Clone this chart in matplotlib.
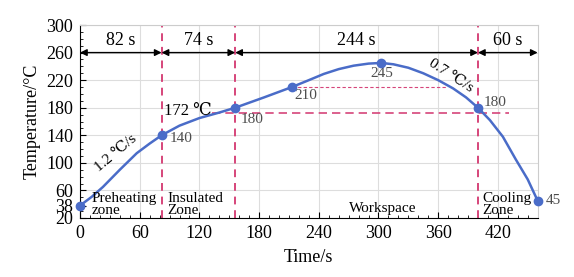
import matplotlib
matplotlib.use("Agg")
import matplotlib.pyplot as plt
from matplotlib.ticker import MultipleLocator

plt.rcParams["font.family"] = ["Liberation Serif", "DejaVu Serif"]

# smooth profile
curve_x = [0, 12, 23, 40, 57, 70, 82, 100, 120, 140, 156, 185, 213, 230, 245,
           260, 275, 290, 303, 315, 330, 345, 360, 375, 388, 400, 412, 425,
           438, 450, 460]
curve_y = [38, 51, 65, 90, 114, 128, 140, 154, 165, 173, 180, 195, 210, 220, 229,
           236, 241, 244, 245, 243, 238, 230, 220, 208, 195, 180, 162, 138,
           105, 76, 45]

# marked points
point_x = [0, 82, 156, 213, 303, 400, 460]
point_y = [38, 140, 180, 210, 245, 180, 45]

zone_edges = [0, 82, 156, 400, 460]
zone_times = ["82 s", "74 s", "244 s", "60 s"]

yticks = [20, 38, 60, 100, 140, 180, 220, 260, 300]
xticks = [0, 60, 120, 180, 240, 300, 360, 420]

blue = "#4a6cc8"
red = "#d6457a"
gray_text = "#4d4d4d"

fig = plt.figure(figsize=(5.74, 2.77), dpi=100)
ax = fig.add_axes([0.1394, 0.213, 0.7973, 0.6967])

ax.set_xlim(0, 460)
ax.set_ylim(20, 300)
ax.set_xticks(xticks)
ax.set_yticks(yticks)
ax.xaxis.set_minor_locator(MultipleLocator(10))
ax.yaxis.set_minor_locator(MultipleLocator(10))
ax.tick_params(which="both", direction="in", labelsize=13, top=False, right=False)
ax.tick_params(which="major", length=4, pad=5)
ax.tick_params(which="minor", length=2)
for s in ["top", "right"]:
    ax.spines[s].set_color("#cccccc")
ax.grid(True, color="#dddddd", linewidth=0.8)
for gl, v in zip(ax.get_ygridlines(), yticks):
    if v in (20, 38):
        gl.set_visible(False)
ax.set_axisbelow(True)

ax.set_xlabel("Time/s", fontsize=13, labelpad=5)
ax.set_ylabel("Temperature/°C", fontsize=13, labelpad=4)

# zone boundaries
for xe in zone_edges[1:-1]:
    ax.axvline(xe, color=red, linestyle=(0, (4, 3)), linewidth=1.4, zorder=2)

ax.plot([133, 431], [172, 172], color=red, linestyle=(0, (5, 3)), linewidth=1.2, zorder=2)
ax.plot([213, 369], [210, 210], color=red, linestyle=(0, (3, 2)), linewidth=0.8, zorder=2)

# duration arrows
for a, b, lab in zip(zone_edges[:-1], zone_edges[1:], zone_times):
    ax.annotate("", xy=(b, 260), xytext=(a, 260),
                arrowprops=dict(arrowstyle="<|-|>", color="black", lw=1.0,
                                mutation_scale=10, shrinkA=0, shrinkB=0))
    ax.text((a + b) / 2, 277, lab, ha="center", va="center", fontsize=13)

ax.plot(curve_x, curve_y, color=blue, linewidth=1.8, zorder=3, clip_on=False,
        solid_joinstyle="round")
ax.scatter(point_x, point_y, s=36, color=blue, zorder=4, clip_on=False)

# point labels
ax.text(90, 136, "140", fontsize=11, color=gray_text, va="center")
ax.text(161, 163, "180", fontsize=11, color=gray_text, va="center")
ax.text(215, 198, "210", fontsize=11, color=gray_text, va="center")
ax.text(303, 229, "245", fontsize=11, color=gray_text, va="center", ha="center")
ax.text(406, 187, "180", fontsize=11, color=gray_text, va="center")
ax.text(468, 45, "45", fontsize=11, color=gray_text, va="center")

ax.text(84, 175, "172 ℃", fontsize=12, va="center")
ax.text(36, 114, "1.2 ℃/s", fontsize=11, rotation=40, ha="center", va="center")
ax.text(373, 227, "0.7 ℃/s", fontsize=11, rotation=-33, ha="center", va="center")

# zone names
ax.text(12, 40, "Preheating\nzone", fontsize=11, va="center", linespacing=0.9)
ax.text(88, 40, "Insulated\nZone", fontsize=11, va="center", linespacing=0.9)
ax.text(304, 34, "Workspace", fontsize=11, va="center", ha="center")
ax.text(404, 40, "Cooling\nZone", fontsize=11, va="center", linespacing=0.9)

fig.savefig("out.png", dpi=100)
